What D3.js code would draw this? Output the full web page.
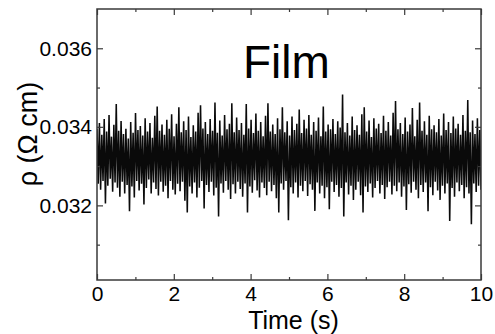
<!DOCTYPE html>
<html><head><meta charset="utf-8">
<script src="https://cdn.jsdelivr.net/npm/d3@7"></script>
<style>
body{margin:0;background:#fff}
text{font-family:"Liberation Sans",Arial,Helvetica,sans-serif;fill:#000}
</style>
</head><body>
<svg id="chart" width="495" height="334"></svg>
<script>
// Resistivity trace, in units of 10^-3 Ω cm (alternating upper/lower excursions)
const rhoMilli = [
33.95,32.55,34.10,32.40,33.80,32.62,34.20,32.05,33.88,32.50,34.30,32.68,33.75,32.35,34.05,32.58,
34.58,32.45,33.90,32.22,34.15,32.60,33.82,32.30,33.95,32.52,33.70,31.85,34.12,32.48,33.85,32.20,
34.35,32.62,33.92,32.38,34.02,32.55,33.78,32.02,34.22,32.44,33.88,32.66,34.10,32.30,33.72,32.58,
34.28,32.42,34.52,32.25,33.90,32.60,34.06,32.35,33.80,32.50,34.18,32.18,33.95,32.62,34.32,32.40,
33.76,32.28,34.08,32.55,34.50,32.36,33.86,32.60,34.14,32.12,33.92,31.82,34.26,32.48,33.74,32.30,
34.04,32.58,33.88,32.20,34.36,32.45,34.55,32.62,33.96,31.92,34.12,32.52,33.82,32.34,34.20,32.60,
33.90,32.25,34.62,32.45,33.85,31.72,34.16,32.56,33.78,32.32,34.30,32.62,33.94,32.40,34.08,32.16,
34.60,32.54,33.86,32.30,34.24,32.60,33.92,32.42,34.10,32.22,33.80,32.56,34.58,31.82,33.96,32.48,
34.18,32.32,33.84,32.64,34.34,32.38,33.90,32.20,34.12,32.58,33.76,32.44,34.28,32.26,34.60,32.60,
33.88,32.36,34.06,32.52,33.82,32.18,34.22,31.82,33.94,32.56,34.50,32.40,33.86,32.62,34.14,31.62,
33.78,32.46,34.26,32.30,33.92,32.58,34.08,32.20,34.44,32.50,33.84,32.36,34.18,32.62,33.96,32.24,
34.30,32.54,33.80,32.40,34.12,31.86,33.90,32.58,34.24,32.30,33.76,32.50,34.52,32.18,33.88,32.46,
34.06,31.90,33.94,32.60,34.20,32.34,33.82,32.52,34.14,32.22,33.98,32.44,34.82,31.72,33.86,32.58,
34.10,32.28,33.78,32.50,34.26,32.14,33.92,32.40,34.04,32.60,33.80,32.26,34.32,31.82,34.50,32.48,
33.88,32.34,34.16,32.56,33.74,32.20,34.22,32.44,33.96,32.62,34.08,32.30,33.84,32.52,34.28,32.16,
33.90,32.46,34.12,32.60,33.78,32.28,34.36,32.50,34.66,32.36,33.94,32.58,34.10,32.22,33.82,32.48,
34.24,31.88,33.88,32.54,34.06,32.32,34.48,32.60,33.76,32.40,34.18,32.18,34.62,32.52,33.90,32.34,
34.14,32.58,33.80,31.85,34.28,32.46,33.94,32.26,34.04,32.60,33.86,32.38,34.20,32.14,33.78,32.50,
34.34,32.30,33.92,32.56,34.12,31.60,33.84,32.44,34.26,32.22,33.96,32.58,34.08,32.36,33.80,32.52,
34.30,32.18,33.90,32.46,34.68,32.30,33.86,31.52,34.16,32.56,33.82,32.34,34.22,32.50,33.92,32.40
];
const timeStart = 0, timeEnd = 10;           // s
const xTicks = [0, 2, 4, 6, 8, 10];
const xMinorTicks = [1, 3, 5, 7, 9];
const yTicks = [0.032, 0.034, 0.036];
const yMinorTicks = [0.031, 0.033, 0.035];
const yTickLabels = ["0.032", "0.034", "0.036"];
const xDomain = [0, 10];
const yDomain = [0.0301, 0.037];
const panelLabel = "Film";
const xTitle = "Time (s)";
const yTitle = "ρ (Ω cm)";

const rho = rhoMilli.map(v => v / 1000);
const time = rho.map((_, i) => timeStart + i * (timeEnd - timeStart) / (rho.length - 1));
const data = rho.map((v, i) => ({t: time[i], v}));

const L = 97, R = 481, T = 9, B = 280;
const svg = d3.select("#chart");
const x = d3.scaleLinear().domain(xDomain).range([L, R]);
const y = d3.scaleLinear().domain(yDomain).range([B, T]);

svg.append("defs").append("clipPath").attr("id", "clip")
  .append("rect").attr("x", L).attr("y", T).attr("width", R - L).attr("height", B - T);

// trace
svg.append("path")
  .datum(data)
  .attr("clip-path", "url(#clip)")
  .attr("fill", "none")
  .attr("stroke", "#0a0a0a")
  .attr("stroke-width", 1.55)
  .attr("stroke-linejoin", "miter")
  .attr("stroke-miterlimit", 1)
  .attr("d", d3.line().x(d => x(d.t)).y(d => y(d.v)));

const frameColor = "#3a3a3a";
function styleAxis(g) {
  g.select(".domain").remove();
  g.selectAll(".tick line").attr("stroke", frameColor).attr("stroke-width", 1.2);
  g.selectAll(".tick text").style("font-size", "21px").attr("fill", "#000");
}
const fmtY = d => yTickLabels[yTicks.indexOf(d)];

// bottom
svg.append("g").attr("transform", `translate(0,${B})`)
  .call(d3.axisBottom(x).tickValues(xTicks).tickSize(-6).tickPadding(6).tickFormat(d3.format("d")))
  .call(styleAxis);
svg.append("g").attr("transform", `translate(0,${B})`)
  .call(d3.axisBottom(x).tickValues(xMinorTicks).tickSize(-3).tickFormat(""))
  .call(styleAxis);
// top
svg.append("g").attr("transform", `translate(0,${T})`)
  .call(d3.axisTop(x).tickValues(xTicks).tickSize(-6).tickFormat(""))
  .call(styleAxis);
svg.append("g").attr("transform", `translate(0,${T})`)
  .call(d3.axisTop(x).tickValues(xMinorTicks).tickSize(-3).tickFormat(""))
  .call(styleAxis);
// left
svg.append("g").attr("transform", `translate(${L},0)`)
  .call(d3.axisLeft(y).tickValues(yTicks).tickSize(-6).tickPadding(5).tickFormat(fmtY))
  .call(styleAxis);
svg.append("g").attr("transform", `translate(${L},0)`)
  .call(d3.axisLeft(y).tickValues(yMinorTicks).tickSize(-3).tickFormat(""))
  .call(styleAxis);
// right
svg.append("g").attr("transform", `translate(${R},0)`)
  .call(d3.axisRight(y).tickValues(yTicks).tickSize(-6).tickFormat(""))
  .call(styleAxis);
svg.append("g").attr("transform", `translate(${R},0)`)
  .call(d3.axisRight(y).tickValues(yMinorTicks).tickSize(-3).tickFormat(""))
  .call(styleAxis);

// frame
svg.append("rect").attr("x", L).attr("y", T).attr("width", R - L).attr("height", B - T)
  .attr("fill", "none").attr("stroke", frameColor).attr("stroke-width", 1.5);

// labels
svg.append("text").attr("x", 243).attr("y", 78).style("font-size", "46px").text(panelLabel);
svg.append("text").attr("x", 293.5).attr("y", 329).attr("text-anchor", "middle")
  .style("font-size", "25px").text(xTitle);
svg.append("text").attr("transform", "translate(37,134) rotate(-90)").attr("text-anchor", "middle")
  .style("font-size", "27px").text(yTitle);
</script>
</body></html>
